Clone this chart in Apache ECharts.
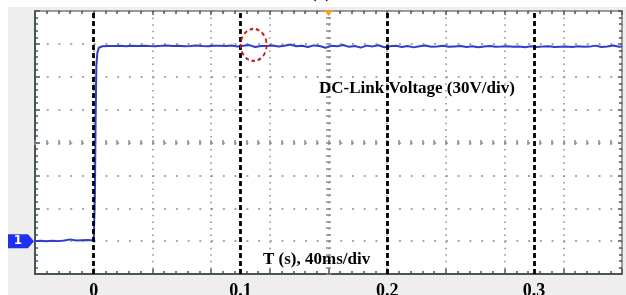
<!DOCTYPE html>
<html><head><meta charset="utf-8">
<script src="https://cdn.jsdelivr.net/npm/echarts@6/dist/echarts.min.js"></script>
<style>html,body{margin:0;padding:0;background:#fff}#c{width:626px;height:295px}</style>
</head><body><div id="c"></div>
<script>
// ---- data (time in s, voltage in V; 30 V/div, 40 ms/div) ----
const tPre = [-0.04, -0.036, -0.032, -0.028, -0.024, -0.02, -0.016, -0.012, -0.008, -0.004, 0];
const vPre = [0.0, 0.3, -0.2, 0.4, 0.0, 0.5, 1.6, 0.6, 0.8, 1.0, 0.6];
const tRise = [0.0008, 0.0013, 0.0018, 0.0025, 0.0035, 0.0045];
const vRise = [40, 110, 160, 172, 176.5, 177.8];
const plateauStart = 0.006, plateauStep = 0.004;
const vPlateau = [
  177.8,178.1,178.0,178.3,177.9,178.2,178.0,178.4,178.1,177.9,
  178.2,178.6,178.0,178.3,177.8,178.1,178.5,178.0,177.9,178.2,
  178.4,178.0,178.6,177.7,178.3,178.9,177.2,178.1,178.0,178.5,
  177.6,178.2,179.4,177.8,178.3,177.1,178.6,178.0,176.4,178.2,
  177.9,179.0,177.3,178.1,176.6,178.4,177.7,178.8,176.9,177.8,
  178.3,177.2,178.0,176.8,177.9,178.5,177.4,177.6,178.2,177.3,
  177.7,178.0,177.2,177.8,176.9,177.6,178.1,177.4,177.5,177.9,
  177.3,177.6,177.0,177.8,177.2,177.5,177.9,177.1,177.4,177.6,
  177.2,177.8,177.3,177.5,178.4,177.1,177.6,178.6,177.4
];
const tEnd = 0.36, vEnd = 177.5;
const xTickLabels = [0, 0.1, 0.2, 0.3];
const traceLabel = '1';
const triggerTime = 0.16;
const highlightPoint = [0.109, 179];
const textVoltage = 'DC-Link Voltage (30V/div)';
const textTime = 'T (s), 40ms/div';
const caption = '(a)';

const X_MIN = -0.04, X_MAX = 0.36, X_DIV = 0.04;
const Y_MIN = -30, Y_MAX = 210, Y_DIV = 30;

// ---- build series data ----
const data = [];
tPre.forEach((t, i) => data.push([t, vPre[i]]));
tRise.forEach((t, i) => data.push([t, vRise[i]]));
vPlateau.forEach((v, i) => data.push([+(plateauStart + i * plateauStep).toFixed(4), v]));
data.push([tEnd, vEnd]);

const SERIF = '"Liberation Serif", "Times New Roman", serif';
const DARK = '#4a5656';
const GRAYB = '#7e7e7e';
const DOT = '#8c8c8c';

function line(show, color, width) {
  return { show: show, onZero: false, lineStyle: { color: color || DARK, width: width || 1 } };
}
function xAx(extra) {
  return Object.assign({
    type: 'value', min: X_MIN, max: X_MAX, interval: X_DIV,
    axisLabel: { show: false }, splitLine: { show: false },
    axisLine: line(false), axisTick: { show: false }
  }, extra);
}
function yAx(extra) {
  return Object.assign({
    type: 'value', min: Y_MIN, max: Y_MAX, interval: Y_DIV,
    axisLabel: { show: false }, splitLine: { show: false },
    axisLine: line(false), axisTick: { show: false }
  }, extra);
}
const tickStyle = c => ({ color: c, width: 1.5 });

const chart = echarts.init(document.getElementById('c'), null, { renderer: 'canvas' });
chart.setOption({
  animation: false,
  backgroundColor: '#ffffff',
  grid: { left: 35, right: 4, top: 11, bottom: 21, containLabel: false, outerBoundsMode: 'none',
          show: true, backgroundColor: '#ffffff', borderWidth: 0 },
  graphic: [
    { type: 'rect', z: -100, silent: true, shape: { x: 8, y: 7, width: 618, height: 288 }, style: { fill: '#eeeeee' } },
    { type: 'text', z: 100, silent: true, style: { x: 321, y: -6, text: caption, align: 'center', verticalAlign: 'middle', font: 'bold 17px ' + SERIF, fill: '#000' } },
    { type: 'text', z: 100, silent: true, style: { x: 319, y: 89, text: textVoltage, align: 'left', verticalAlign: 'middle', font: 'bold 17px ' + SERIF, fill: '#000' } },
    { type: 'text', z: 100, silent: true, style: { x: 263, y: 260, text: textTime, align: 'left', verticalAlign: 'middle', font: 'bold 17px ' + SERIF, fill: '#000' } }
  ],
  xAxis: [
    xAx({ position: 'bottom',
      axisLine: line(true, DARK, 2),
      axisTick: { show: true, inside: true, length: 5, lineStyle: tickStyle(DARK) },
      minorTick: { show: true, splitNumber: 5, length: 3, lineStyle: tickStyle(DARK) },
      splitLine: { show: true, lineStyle: { type: [1.5, 5.075], color: DOT, width: 1.5 } } }),
    xAx({ position: 'top',
      axisLine: line(true, GRAYB, 1.5),
      axisTick: { show: true, inside: true, length: 4, lineStyle: tickStyle(DARK) },
      minorTick: { show: true, splitNumber: 5, length: 3, lineStyle: tickStyle(DARK) } }),
    xAx({ position: 'bottom', offset: -131.5,
      axisTick: { show: true, inside: true, length: 2.5, lineStyle: tickStyle(DOT) },
      minorTick: { show: true, splitNumber: 5, length: 2.5, lineStyle: tickStyle(DOT) } }),
    xAx({ position: 'bottom', offset: -131.5,
      axisTick: { show: true, inside: false, length: 2.5, lineStyle: tickStyle(DOT) },
      minorTick: { show: true, splitNumber: 5, length: 2.5, lineStyle: tickStyle(DOT) } }),
    xAx({ position: 'bottom',
      axisLabel: { show: true, customValues: xTickLabels, margin: 8, color: '#000',
        fontFamily: SERIF, fontWeight: 'bold', fontSize: 18, formatter: v => String(v) } })
  ],
  yAxis: [
    yAx({ position: 'left',
      axisLine: line(true, DARK, 2),
      axisTick: { show: true, inside: true, length: 5, lineStyle: tickStyle(DARK) },
      minorTick: { show: true, splitNumber: 5, length: 3, lineStyle: tickStyle(DARK) },
      splitLine: { show: true, lineStyle: { type: [2, 9.74], color: DOT, width: 1.5 } } }),
    yAx({ position: 'right',
      axisLine: line(true, GRAYB, 1.5),
      axisTick: { show: true, inside: true, length: 4, lineStyle: tickStyle(DARK) },
      minorTick: { show: true, splitNumber: 5, length: 3, lineStyle: tickStyle(DARK) } }),
    yAx({ position: 'left', offset: -293.5,
      axisTick: { show: true, inside: true, length: 2.5, lineStyle: tickStyle(DOT) },
      minorTick: { show: true, splitNumber: 5, length: 2.5, lineStyle: tickStyle(DOT) } }),
    yAx({ position: 'left', offset: -293.5,
      axisTick: { show: true, inside: false, length: 2.5, lineStyle: tickStyle(DOT) },
      minorTick: { show: true, splitNumber: 5, length: 2.5, lineStyle: tickStyle(DOT) } })
  ],
  series: [{
    type: 'line', xAxisIndex: 0, yAxisIndex: 0, data: data,
    showSymbol: false, symbol: 'none', silent: true,
    lineStyle: { color: '#2f3ccf', width: 2 },
    markLine: {
      silent: true, symbol: ['none', 'none'], label: { show: false },
      lineStyle: { type: [5, 3], color: '#000', width: 2.8 },
      data: xTickLabels.map(v => ({ xAxis: v }))
    },
    markPoint: {
      silent: true,
      data: [
        { coord: [X_MIN, 0], symbol: 'path://M0,0 L20,0 L26,7 L20,14 L0,14 Z', symbolSize: [26, 14], symbolOffset: [-14, 0],
          itemStyle: { color: '#2030f0' },
          label: { show: true, formatter: traceLabel, color: '#fff', fontSize: 12, fontWeight: 'bold', fontFamily: 'DejaVu Sans', offset: [-3, 0] } },
        { coord: [triggerTime, Y_MAX], symbol: 'triangle', symbolRotate: 180, symbolSize: [9, 6], symbolOffset: [0, 2],
          itemStyle: { color: '#f2a024' }, label: { show: false } },
        { coord: highlightPoint, symbol: 'circle', symbolSize: [26, 32],
          itemStyle: { color: 'rgba(0,0,0,0)', borderColor: '#cc1f1f', borderWidth: 2, borderType: [4, 3] },
          label: { show: false } }
      ]
    }
  }]
});
</script></body></html>
